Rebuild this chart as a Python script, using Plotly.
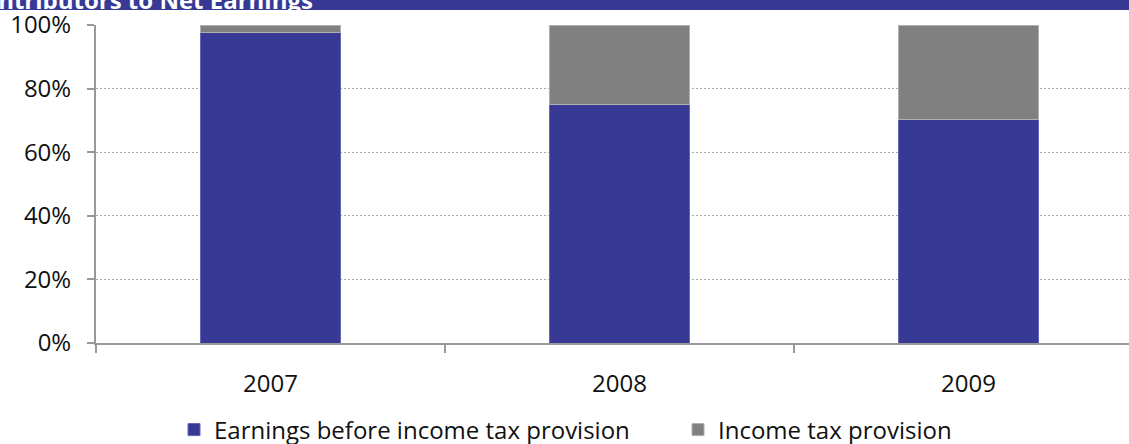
import plotly.graph_objects as go

years = ["2007", "2008", "2009"]
earnings_before_tax = [97.5, 75.0, 70.4]
income_tax = [2.5, 25.0, 29.6]

NAVY = "#373995"
GRAY = "#808080"
FONT = "Open Sans"

W, H = 1129, 444
L, R, T, B = 96, 0, 25, 101
ph = H - T - B
pw = W - L - R

def py(p):
    return (H - B - p) / ph

def px(p):
    return (p - L) / pw

fig = go.Figure()
fig.add_trace(go.Bar(x=years, y=earnings_before_tax, name="Earnings before income tax provision",
                     marker=dict(color=NAVY, line=dict(color="#6466b8", width=1)), width=0.4))
fig.add_trace(go.Bar(x=years, y=income_tax, name="Income tax provision",
                     marker=dict(color=GRAY, line=dict(color="#b0b0b0", width=1)), width=0.4))

fig.update_layout(
    width=W, height=H,
    margin=dict(l=L, r=R, t=T, b=B, autoexpand=False),
    barmode="stack",
    plot_bgcolor="white", paper_bgcolor="white",
    font=dict(family=FONT, size=20, color="#111"),
    legend=dict(orientation="h", traceorder="normal", x=px(174), xanchor="left",
                y=py(430), yanchor="middle",
                font=dict(size=24), itemwidth=30, entrywidth=459),
    showlegend=True,
    xaxis=dict(range=[-0.5, 2.46], tickson="boundaries", ticks="outside", ticklen=8,
               tickcolor="#999", tickwidth=2, showline=True, linecolor="#999", linewidth=2,
               showgrid=False, ticklabelstandoff=18, tickfont=dict(size=24), automargin=False),
    yaxis=dict(range=[0, 100], dtick=20, ticksuffix="%", ticks="outside", ticklen=7,
               tickcolor="#999", tickwidth=2, showline=True, linecolor="#999", linewidth=2,
               showgrid=True, gridcolor="#aaa", griddash="2px,2px", gridwidth=1,
               zeroline=False, ticklabelstandoff=11, tickfont=dict(size=24), automargin=False),
    shapes=[dict(type="rect", xref="paper", yref="paper", x0=px(-10), x1=px(W + 10),
                 y0=py(10), y1=py(-20), fillcolor=NAVY, line=dict(width=0), layer="above")],
    annotations=[dict(text="<b>Contributors to Net Earnings</b>", xref="paper", yref="paper",
                      x=px(-34), xanchor="left", y=py(18), yanchor="bottom", showarrow=False,
                      font=dict(family=FONT, size=24, color="white"))],
)

fig.write_html("out.html", config={"displayModeBar": False},
               post_script="document.body.style.margin='0';document.body.style.padding='0';")
